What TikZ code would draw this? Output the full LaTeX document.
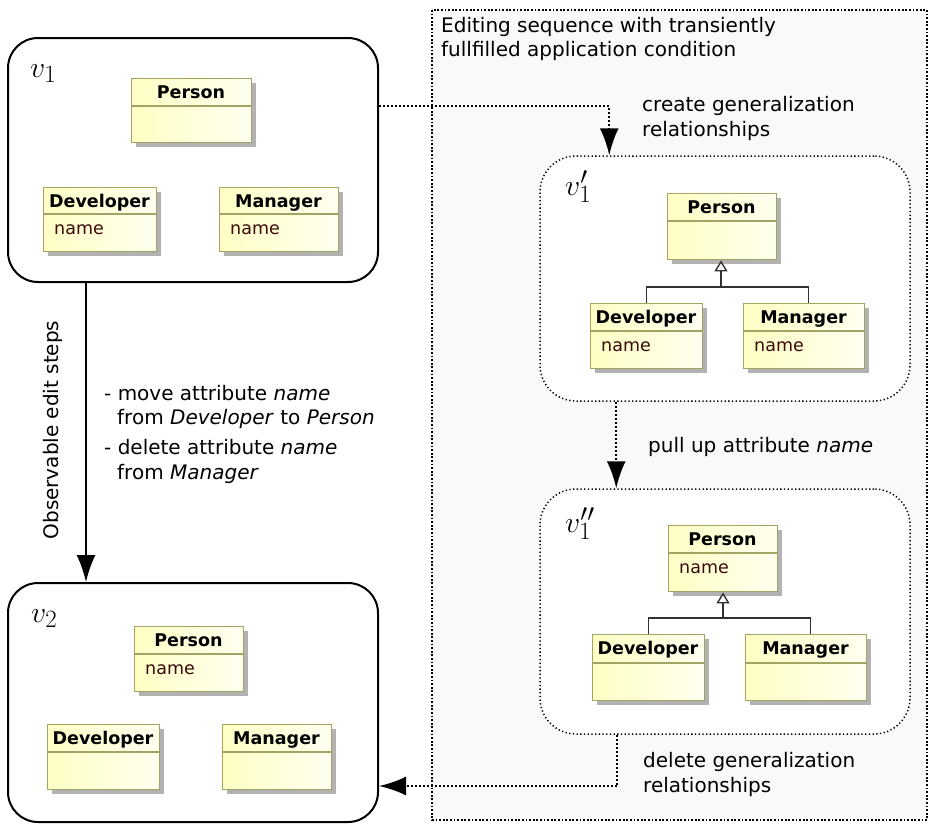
\documentclass[tikz,border=0pt]{standalone}
\usepackage[no-math]{fontspec}
\setmainfont{DejaVu Sans}
\usetikzlibrary{arrows.meta}

\definecolor{clsyellow}{RGB}{254,254,196}
\definecolor{clsyellowlight}{RGB}{255,255,240}
\definecolor{clsedge}{RGB}{163,163,100}
\definecolor{clsshadow}{RGB}{178,178,178}
\definecolor{attrcol}{RGB}{60,10,10}
\definecolor{panelgray}{RGB}{249,249,249}
\definecolor{genedge}{RGB}{50,50,50}

\tikzset{
  viewbox/.style={draw, line width=2pt, rounded corners=30pt, fill=white, inner sep=0pt},
  sketchbox/.style={draw, line width=1.5pt, dash pattern=on 1.3pt off 2.4pt,
                    rounded corners=36pt, fill=white, inner sep=0pt},
  seqpanel/.style={draw, line width=2.2pt, dash pattern=on 1.8pt off 1.8pt, fill=panelgray},
  flow/.style={line width=2.4pt, dash pattern=on 2pt off 2pt,
               -{Latex[length=27pt,width=19pt]}},
  observed/.style={line width=1.8pt, -{Latex[length=27pt,width=19pt]}},
  clsbox/.style={draw=clsedge, line width=1.4pt, left color=clsyellow,
                 right color=clsyellowlight, inner sep=0pt},
  clsline/.style={draw=clsedge, line width=1.4pt},
  clsshade/.style={fill=clsshadow},
  clstitle/.style={inner sep=0pt, font=\fontsize{17.5}{20}\selectfont\bfseries},
  clsattr/.style={inner sep=0pt, text=attrcol, font=\fontsize{17.5}{20}\selectfont},
  genline/.style={line width=1.4pt, draw=genedge},
  genhead/.style={line width=1.4pt, draw=genedge,
                  -{Triangle[open, fill=white, length=11pt, width=13pt]}},
  lbl/.style={inner sep=0pt, anchor=base west, font=\fontsize{20}{24}\selectfont},
  vlabel/.style={inner sep=0pt, anchor=base west, font=\Huge},
}

% version label in enlarged math
\newcommand\verlabel[1]{\scalebox{1.2}{$#1$}}

% class box: name, x1, y1, x2, y of divider, y2, title, attribute
\newcommand\umlclass[8]{%
  \fill[clsshade] ({#2+5},{#3+5}) rectangle ({#4+5},{#6+5});
  \node[clsbox, minimum width={#4-#2}, minimum height={#6-#3}, anchor=north west] (#1) at (#2,#3) {};
  \draw[clsline] (#2,#5) -- (#4,#5);
  \node[clstitle, anchor=base] (#1-title) at ({(#2+#4)/2},{#3+20.5}) {#7};
  \node[clsattr, anchor=base west] (#1-attr) at ({#2+11},{#5+20}) {#8};
}

\begin{document}
\begin{tikzpicture}[x=1pt, y=-1pt]
\useasboundingbox (0,0) rectangle (929,823);

% editing sequence panel
\draw[seqpanel] (432,10) rectangle (927,820);
\node[lbl] (seq1) at (441,32) {Editing sequence with transiently};
\node[lbl] (seq2) at (441,56) {fullfilled application condition};

% the four model versions
\node[viewbox, minimum width=370, minimum height=244] (v1) at (193,160) {};
\node[viewbox, minimum width=370, minimum height=239] (v2) at (193,702.5) {};
\node[sketchbox, minimum width=370, minimum height=245] (v1p) at (725,278.5) {};
\node[sketchbox, minimum width=370, minimum height=245] (v1pp) at (725,611.5) {};

\node[vlabel] (v1-lab) at (30,77) {\verlabel{v_1}};
\node[vlabel] (v2-lab) at (31,622) {\verlabel{v_2}};
\node[vlabel] (v1p-lab) at (565,195) {\verlabel{v_1'}};
\node[vlabel] (v1pp-lab) at (565,532) {\verlabel{v_1''}};

% v1
\umlclass{aP}{131}{78}{251}{106}{142}{Person}{}
\umlclass{aD}{43}{187}{156}{214}{251}{Developer}{name}
\umlclass{aM}{219}{187}{338}{214}{251}{Manager}{name}

% v1'
\umlclass{bP}{667}{193}{776}{221}{259}{Person}{}
\umlclass{bD}{590}{303}{702}{331}{368}{Developer}{name}
\umlclass{bM}{743}{303}{864}{331}{368}{Manager}{name}
\coordinate (bJ) at (721,287);
\draw[genline] (bD.north) |- (bJ) -| ([xshift=4.5pt]bM.north);
\draw[genhead] (bJ) -- (bJ |- bP.south);

% v1''
\umlclass{cP}{668}{525}{777}{553}{591}{Person}{name}
\umlclass{cD}{592}{634}{704}{663}{700}{Developer}{}
\umlclass{cM}{745}{634}{866}{663}{700}{Manager}{}
\coordinate (cJ) at (723,618);
\draw[genline] (cD.north) |- (cJ) -| ([xshift=4.5pt]cM.north);
\draw[genhead] (cJ) -- (cJ |- cP.south);

% v2
\umlclass{dP}{134}{626}{243}{654}{691}{Person}{name}
\umlclass{dD}{47}{724}{159}{752}{789}{Developer}{}
\umlclass{dM}{222}{724}{331}{752}{789}{Manager}{}

% transitions
\draw[flow] ([yshift=-69pt]v1.north east) -| ([xshift=70pt]v1p.north west);
\draw[flow] ([xshift=77pt]v1p.south west) -- ([xshift=77pt]v1pp.north west);
\draw[flow] ([xshift=78pt]v1pp.south west) |- ([yshift=37pt]v2.south east);
\draw[observed] ([xshift=79pt]v1.south west) -- ([xshift=79pt]v2.north west);

\node[lbl] (cg1) at (642,111) {create generalization};
\node[lbl] (cg2) at (642,136) {relationships};
\node[lbl] (pu) at (648,452) {pull up attribute \textit{name}};
\node[lbl] (dg1) at (643,767) {delete generalization};
\node[lbl] (dg2) at (643,792) {relationships};

\node[inner sep=0pt, rotate=90, font=\fontsize{20}{24}\selectfont] (obs) at (53,430) {Observable edit steps};
\node[lbl] (st1) at (104,400) {- move attribute \textit{name}};
\node[lbl] (st2) at (117,424) {from \textit{Developer} to \textit{Person}};
\node[lbl] (st3) at (104,454) {- delete attribute \textit{name}};
\node[lbl] (st4) at (117,479) {from \textit{Manager}};
\end{tikzpicture}
\end{document}
